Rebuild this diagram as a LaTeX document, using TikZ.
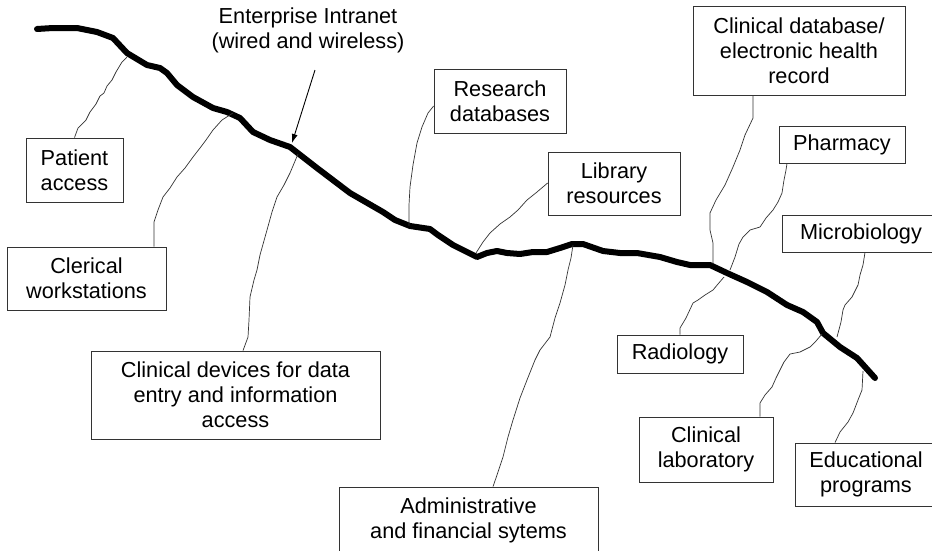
\documentclass[tikz,border=0pt]{standalone}
\usepackage{fontspec}
\setmainfont{Liberation Sans}
\usepackage{tikz}
\usetikzlibrary{arrows.meta}
\usetikzlibrary{positioning}
\newcommand\boxfont{\fontsize{21.7}{25}\selectfont}
\tikzset{
  infobox/.style={draw=black!80, line width=0.8pt, inner sep=0pt, align=center, font=\boxfont},
  link/.style={draw=black!80, line width=0.7pt, line join=round},
  backbone/.style={line width=6pt, line cap=round, line join=round},
}

\begin{document}
\begin{tikzpicture}[x=1pt, y=-1pt]
    \useasboundingbox[fill=white] (0,0) rectangle (932,550);

    % the network
    \draw[backbone] (37,29) -- (53,28) -- (77,28) -- (97,32) -- (113,38) -- (127,53) -- (147,65)
      -- (160,68) -- (167,73) -- (177,85) -- (193,97) -- (213,108) -- (227,112) -- (240,118)
      -- (253,132) -- (270,140) -- (290,147) -- (317,168) -- (350,193) -- (383,212)
      -- (395,220) -- (410,226) -- (430,229) -- (438,235) -- (453,245) -- (467,252)
      -- (477,257) -- (487,253) -- (497,251) -- (507,253) -- (520,254) -- (533,252)
      -- (547,252) -- (560,248) -- (572,244) -- (583,244) -- (603,251) -- (620,253)
      -- (637,253) -- (660,257) -- (677,262) -- (690,265) -- (710,265) -- (727,273)
      -- (747,282) -- (767,292) -- (787,305) -- (803,312) -- (817,322) -- (823,333)
      -- (840,347) -- (857,358) -- (875,378);

    \coordinate (jpat) at (127,57);
    \coordinate (jcler) at (233,113);
    \coordinate (jdev) at (298,154);
    \coordinate (jres) at (409,226);
    \coordinate (jlib) at (476,253);
    \coordinate (jadm) at (573,245);
    \coordinate (jcdb) at (713,264);
    \coordinate (jpha) at (730,270);
    \coordinate (jrad) at (724,277);
    \coordinate (jmic) at (837,337);
    \coordinate (jlab) at (822,334);
    \coordinate (jedu) at (863,371);

    \node[font=\boxfont, align=center] (ent) at (308,30) {Enterprise Intranet\\(wired and wireless)};
    \coordinate (enttail) at (315,70);
    \coordinate (enttip) at (292,143);
    \draw[-{Latex[length=9pt,width=6pt]}, line width=0.9pt] (enttail) -- (enttip);

    \node[infobox, minimum width=97pt, minimum height=64pt] (pat) at (74.5,170) {Patient\\access};
    \node[infobox, minimum width=159pt, minimum height=63pt] (cler) at (86.5,278.5) {Clerical\\workstations};
    \node[infobox, minimum width=289pt, minimum height=88pt] (dev) at (235.5,395) {Clinical devices for data\\entry and information\\access};
    \node[infobox, minimum width=259pt, minimum height=66pt] (adm) at (468.5,520) {Administrative\\and financial sytems};
    \node[infobox, minimum width=132pt, minimum height=64pt] (res) at (500,101) {Research\\databases};
    \node[infobox, minimum width=132pt, minimum height=63pt] (lib) at (614,183.5) {Library\\resources};
    \node[infobox, minimum width=212pt, minimum height=89pt] (cdb) at (799,50.5) {Clinical database/\\electronic health\\record};
    \node[infobox, minimum width=126pt, minimum height=37pt] (pha) at (842,144.5) {Pharmacy};
    \node[infobox, minimum width=158pt, minimum height=37pt] (mic) at (861,233.5) {Microbiology};
    \node[infobox, minimum width=126pt, minimum height=38pt] (rad) at (680,354) {Radiology};
    \node[infobox, minimum width=134pt, minimum height=65pt] (lab) at (706,449.5) {Clinical\\laboratory};
    \node[infobox, minimum width=142pt, minimum height=63pt] (edu) at (866,474.5) {Educational\\programs};

    % hand drawn links to the network
    \draw[link] (pat.north) -- (78,128) -- (86,120) -- (90,112) -- (96,104) -- (100,96) -- (104,93)
      -- (107,86) -- (112,80) -- (116,72) -- (122,62) -- (jpat);
    \draw[link] (cler.north -| 154,0) -- (154,222) -- (158,210) -- (163,197) -- (170,188) -- (177,177)
      -- (185,168) -- (193,157) -- (200,148) -- (206,140) -- (213,130) -- (222,120) -- (jcler);
    \draw[link] (dev.north -| 243,0) -- (248,337) -- (249,320) -- (250,297) -- (254,280) -- (257,270)
      -- (260,255) -- (267,230) -- (272,212) -- (277,197) -- (284,185) -- (290,173) -- (jdev);
    \draw[link] (res.west |- 0,106) -- (428,113) -- (422,127) -- (417,143) -- (413,165) -- (410,187)
      -- (409,205) -- (jres);
    \draw[link] (lib.west |- 0,183) -- (537,192) -- (527,200) -- (518,210) -- (510,217) -- (500,224)
      -- (490,233) -- (483,242) -- (jlib);
    \draw[link] (adm.north -| 493,0) -- (497,475) -- (503,457) -- (508,437) -- (513,420) -- (520,398)
      -- (527,380) -- (535,360) -- (540,350) -- (550,337) -- (555,318) -- (560,303) -- (565,285)
      -- (568,270) -- (571,258) -- (jadm);
    \draw[link] (cdb.south -| 753,0) -- (753,118) -- (745,135) -- (740,150) -- (733,167) -- (725,185)
      -- (716,200) -- (710,213) -- (710,230) -- (713,243) -- (jcdb);
    \draw[link] (pha.south west -| 787,0) -- (786,170) -- (784,180) -- (782,193) -- (778,202) -- (773,210)
      -- (766,218) -- (760,227) -- (750,230) -- (743,237) -- (739,244) -- (735,257) -- (jpha);
    \draw[link] (rad.north) -- (680,328) -- (686,318) -- (693,303) -- (698,300) -- (705,295)
      -- (713,290) -- (718,284) -- (jrad);
    \draw[link] (mic.south -| 865,0) -- (863,265) -- (860,275) -- (858,285) -- (852,297) -- (845,305)
      -- (843,310) -- (841,322) -- (jmic);
    \draw[link] (lab.north -| 760,0) -- (760,403) -- (765,395) -- (772,387) -- (776,378) -- (780,370)
      -- (784,362) -- (790,354) -- (800,352) -- (810,347) -- (816,341) -- (jlab);
    \draw[link] (edu.north -| 835,0) -- (840,432) -- (848,422) -- (853,413) -- (858,400) -- (862,390)
      -- (jedu);
\end{tikzpicture}
\end{document}
